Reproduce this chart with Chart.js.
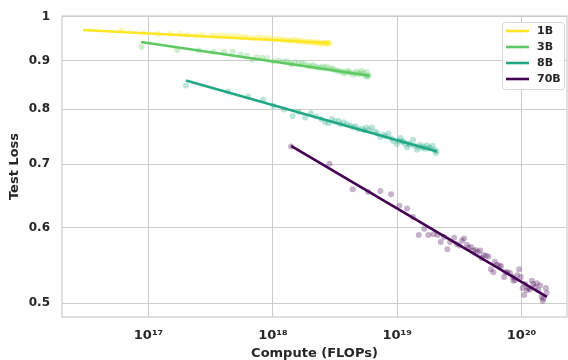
<!DOCTYPE html>
<html>
<head>
<meta charset="utf-8">
<script src="https://cdn.jsdelivr.net/npm/chart.js@4.4.1/dist/chart.umd.min.js"></script>
<style>
  html, body { margin: 0; padding: 0; background: #ffffff; overflow: hidden; }
  #wrap { width: 568px; height: 360px; }
  canvas { display: block; }
</style>
</head>
<body>
<div id="wrap"><canvas id="c" width="568" height="360"></canvas></div>
<script>
// Model sizes and their colours
const models = ['1B', '3B', '8B', '70B'];
const modelColors = ['#fde725', '#5ec962', '#22a884', '#440154'];

// Evaluated checkpoints: compute (FLOPs) and test loss
const compute1B = [6.03e16, 9.12e16, 1.18e17, 1.49e17, 1.80e17, 2.05e17, 2.40e17, 2.69e17, 3.23e17, 3.55e17,
  3.89e17, 4.21e17, 4.54e17, 4.89e17, 5.29e17, 5.67e17, 5.99e17, 6.45e17, 6.99e17, 7.48e17,
  7.91e17, 8.43e17, 8.95e17, 9.51e17, 1.01e18, 1.07e18, 1.13e18, 1.19e18, 1.26e18, 1.32e18,
  1.38e18, 1.44e18, 1.51e18, 1.57e18, 1.61e18, 1.67e18, 1.76e18, 1.84e18, 1.90e18, 1.98e18,
  2.06e18, 2.12e18, 2.19e18, 2.26e18, 2.33e18, 2.40e18, 2.48e18, 2.56e18, 2.63e18, 2.71e18,
  2.75e18, 2.81e18, 2.85e18];
const loss1B = [0.968, 0.962, 0.960, 0.960, 0.960, 0.957, 0.956, 0.958, 0.956, 0.956,
  0.957, 0.955, 0.954, 0.955, 0.954, 0.952, 0.953, 0.951, 0.950, 0.951,
  0.952, 0.949, 0.950, 0.949, 0.948, 0.947, 0.949, 0.946, 0.946, 0.945,
  0.944, 0.945, 0.946, 0.944, 0.942, 0.944, 0.942, 0.941, 0.940, 0.942,
  0.941, 0.940, 0.939, 0.941, 0.940, 0.936, 0.938, 0.939, 0.938, 0.937,
  0.940, 0.938, 0.938];

const compute3B = [8.74e16, 1.70e17, 2.53e17, 3.33e17, 4.06e17, 4.75e17, 5.51e17, 6.16e17, 6.78e17, 7.41e17,
  8.20e17, 9.00e17, 1.01e18, 1.11e18, 1.22e18, 1.30e18, 1.38e18, 1.43e18, 1.51e18, 1.61e18,
  1.71e18, 1.79e18, 1.90e18, 1.99e18, 2.09e18, 2.19e18, 2.29e18, 2.40e18, 2.51e18, 2.63e18,
  2.73e18, 2.89e18, 3.00e18, 3.11e18, 3.27e18, 3.41e18, 3.59e18, 3.71e18, 3.85e18, 4.01e18,
  4.11e18, 4.24e18, 4.45e18, 4.59e18, 4.73e18, 4.89e18, 5.03e18, 5.19e18, 5.35e18, 5.52e18,
  5.70e18, 5.78e18, 5.87e18];
const loss3B = [0.930, 0.923, 0.922, 0.919, 0.919, 0.919, 0.913, 0.911, 0.902, 0.907,
  0.906, 0.905, 0.898, 0.900, 0.897, 0.898, 0.894, 0.891, 0.896, 0.893,
  0.894, 0.892, 0.889, 0.887, 0.890, 0.887, 0.885, 0.884, 0.887, 0.883,
  0.887, 0.882, 0.883, 0.880, 0.878, 0.877, 0.876, 0.872, 0.875, 0.878,
  0.874, 0.874, 0.869, 0.873, 0.876, 0.870, 0.873, 0.878, 0.872, 0.867,
  0.875, 0.865, 0.868];

const compute8B = [2.00e17, 4.37e17, 6.33e17, 8.36e17, 1.01e18, 1.23e18, 1.44e18, 1.61e18, 1.82e18, 2.02e18,
  2.23e18, 2.45e18, 2.63e18, 2.80e18, 2.98e18, 3.17e18, 3.37e18, 3.48e18, 3.71e18, 3.93e18,
  4.18e18, 4.42e18, 4.63e18, 4.85e18, 5.19e18, 5.42e18, 5.62e18, 5.94e18, 6.25e18, 6.64e18,
  6.96e18, 7.29e18, 7.75e18, 8.07e18, 8.50e18, 8.93e18, 9.32e18, 9.93e18, 1.03e19, 1.06e19,
  1.10e19, 1.12e19, 1.16e19, 1.20e19, 1.24e19, 1.27e19, 1.34e19, 1.38e19, 1.44e19, 1.49e19,
  1.53e19, 1.59e19, 1.62e19, 1.68e19, 1.73e19, 1.79e19, 1.84e19, 1.93e19, 1.98e19, 2.04e19,
  2.07e19];
const loss8B = [0.847, 0.835, 0.825, 0.819, 0.806, 0.799, 0.787, 0.795, 0.784, 0.792,
  0.786, 0.781, 0.775, 0.773, 0.781, 0.777, 0.778, 0.771, 0.775, 0.771,
  0.769, 0.766, 0.767, 0.762, 0.763, 0.760, 0.765, 0.761, 0.765, 0.758,
  0.754, 0.748, 0.752, 0.749, 0.754, 0.745, 0.740, 0.735, 0.741, 0.746,
  0.739, 0.740, 0.735, 0.729, 0.736, 0.734, 0.743, 0.732, 0.725, 0.730,
  0.734, 0.728, 0.731, 0.727, 0.733, 0.729, 0.728, 0.732, 0.725, 0.719,
  0.723];

const compute70B = [1.40e18, 2.85e18, 4.38e18, 5.83e18, 7.33e18, 8.93e18, 1.04e19, 1.20e19, 1.34e19, 1.49e19,
  1.65e19, 1.78e19, 1.95e19, 2.11e19, 2.24e19, 2.38e19, 2.53e19, 2.66e19, 2.87e19, 3.00e19,
  3.16e19, 3.32e19, 3.45e19, 3.63e19, 3.74e19, 3.93e19, 4.10e19, 4.27e19, 4.45e19, 4.64e19,
  4.77e19, 4.95e19, 5.18e19, 5.41e19, 5.66e19, 5.93e19, 6.12e19, 6.32e19, 6.63e19, 6.84e19,
  7.23e19, 7.44e19, 7.69e19, 8.08e19, 8.50e19, 8.59e19, 8.87e19, 9.25e19, 9.55e19, 9.85e19,
  1.02e20, 1.05e20, 1.07e20, 1.10e20, 1.13e20, 1.17e20, 1.21e20, 1.24e20, 1.28e20, 1.33e20,
  1.36e20, 1.41e20, 1.45e20, 1.48e20, 1.50e20, 1.57e20, 1.59e20];
const loss70B = [0.731, 0.701, 0.659, 0.655, 0.656, 0.651, 0.633, 0.629, 0.616, 0.590,
  0.599, 0.590, 0.591, 0.590, 0.580, 0.587, 0.570, 0.580, 0.586, 0.577,
  0.575, 0.582, 0.585, 0.576, 0.572, 0.573, 0.568, 0.569, 0.566, 0.568,
  0.558, 0.562, 0.561, 0.560, 0.543, 0.539, 0.553, 0.549, 0.548, 0.547,
  0.533, 0.539, 0.539, 0.538, 0.533, 0.528, 0.529, 0.535, 0.543, 0.533,
  0.519, 0.510, 0.524, 0.516, 0.519, 0.517, 0.528, 0.524, 0.520, 0.525,
  0.516, 0.522, 0.508, 0.503, 0.506, 0.519, 0.513];

// Power-law fit for each model: [compute start, compute end] and [loss start, loss end]
const fitCompute1B = [2.98e16, 2.86e18];  const fitLoss1B = [0.9687, 0.9387];
const fitCompute3B = [8.70e16, 6.00e18];  const fitLoss3B = [0.9410, 0.8671];
const fitCompute8B = [2.00e17, 2.09e19];  const fitLoss8B = [0.8573, 0.7219];
const fitCompute70B = [1.40e18, 1.60e20]; const fitLoss70B = [0.7318, 0.5078];

// Axis ticks and their labels
const xTicks = [1e17, 1e18, 1e19, 1e20];
const xTickLabels = ['10\u00B9\u2077', '10\u00B9\u2078', '10\u00B9\u2079', '10\u00B2\u2070'];
const yTicks = [0.5, 0.6, 0.7, 0.8, 0.9, 1.0];
const yTickLabels = ['0.5', '0.6', '0.7', '0.8', '0.9', '1'];
const xRange = [2.013e16, 2.32e20];
const yRange = [0.4837, 1.0022];

const pointSets = [[compute1B, loss1B], [compute3B, loss3B], [compute8B, loss8B], [compute70B, loss70B]];
const fitSets = [[fitCompute1B, fitLoss1B], [fitCompute3B, fitLoss3B], [fitCompute8B, fitLoss8B], [fitCompute70B, fitLoss70B]];

function toPoints(xs, ys) { return xs.map((x, i) => ({ x: x, y: ys[i] })); }
function withAlpha(hex, a) {
  const n = parseInt(hex.slice(1), 16);
  return 'rgba(' + (n >> 16) + ',' + ((n >> 8) & 255) + ',' + (n & 255) + ',' + a + ')';
}

const datasets = [];
models.forEach((m, i) => {
  datasets.push({
    label: m,
    isFit: true,
    data: toPoints(fitSets[i][0], fitSets[i][1]),
    showLine: true,
    borderColor: modelColors[i],
    backgroundColor: modelColors[i],
    borderWidth: 2.6,
    pointRadius: 0,
    order: 0
  });
  datasets.push({
    label: m + ' points',
    data: toPoints(pointSets[i][0], pointSets[i][1]),
    showLine: false,
    pointRadius: 3,
    pointBorderWidth: 0,
    backgroundColor: withAlpha(modelColors[i], 0.3),
    borderColor: 'rgba(0,0,0,0)',
    order: 1
  });
});

const TEXT = '#262626';
const GRID = '#cccccc';
const FONT = 'DejaVu Sans';
const PLOT_RIGHT_GAP = 1;

// Let the plotting area run to the right edge of the canvas
const plotWidthPlugin = {
  id: 'plotWidth',
  afterLayout(chart) {
    const area = chart.chartArea;
    const right = chart.width - PLOT_RIGHT_GAP;
    area.right = right;
    area.width = right - area.left;
    const x = chart.scales.x;
    x.right = right;
    x.width = right - x.left;
    x.configure();
  }
};

// Light frame around the plotting area
const framePlugin = {
  id: 'frame',
  beforeDatasetsDraw(chart) {
    const a = chart.chartArea, ctx = chart.ctx;
    ctx.save();
    ctx.strokeStyle = GRID;
    ctx.lineWidth = 1.2;
    ctx.strokeRect(a.left, a.top, a.right - a.left, a.bottom - a.top);
    ctx.restore();
  }
};

// Legend box in the upper-right corner of the plot
const legendPlugin = {
  id: 'cornerLegend',
  afterDraw(chart) {
    const ctx = chart.ctx;
    const a = chart.chartArea;
    const fits = chart.data.datasets.filter(d => d.isFit);
    const boxW = 62, boxH = 67;
    const bx = a.right - boxW - 3, by = a.top + 6;
    ctx.save();
    ctx.beginPath();
    if (ctx.roundRect) ctx.roundRect(bx + 0.5, by + 0.5, boxW, boxH, 3);
    else ctx.rect(bx + 0.5, by + 0.5, boxW, boxH);
    ctx.fillStyle = 'rgba(255,255,255,0.85)';
    ctx.fill();
    ctx.strokeStyle = '#d6d6d6';
    ctx.lineWidth = 1;
    ctx.stroke();
    ctx.font = 'bold 11px "' + FONT + '"';
    ctx.textBaseline = 'middle';
    ctx.textAlign = 'left';
    fits.forEach((d, i) => {
      const y = by + 9 + i * 16;
      ctx.beginPath();
      ctx.moveTo(bx + 4, y);
      ctx.lineTo(bx + 27, y);
      ctx.strokeStyle = d.borderColor;
      ctx.lineWidth = 2.6;
      ctx.stroke();
      ctx.fillStyle = TEXT;
      ctx.fillText(d.label, bx + 35, y + 0.5);
    });
    ctx.restore();
  }
};

new Chart(document.getElementById('c'), {
  type: 'scatter',
  data: { datasets: datasets },
  plugins: [plotWidthPlugin, framePlugin, legendPlugin],
  options: {
    responsive: false,
    animation: false,
    devicePixelRatio: 1,
    layout: { padding: { top: 16, right: 1, left: 0, bottom: 0 } },
    plugins: { legend: { display: false }, tooltip: { enabled: false } },
    scales: {
      x: {
        type: 'logarithmic',
        min: xRange[0],
        max: xRange[1],
        afterBuildTicks: s => { s.ticks = xTicks.map(v => ({ value: v, major: true })); },
        afterFit: s => { s.height = 43; s.paddingLeft = 0; s.paddingRight = 0; },
        grid: { color: GRID, lineWidth: 1, drawTicks: false },
        border: { display: false },
        ticks: {
          autoSkip: false, maxRotation: 0, padding: 11, color: TEXT,
          font: { family: FONT, size: 13, weight: 'bold' },
          callback: v => xTickLabels[xTicks.indexOf(v)]
        },
        title: {
          display: true, text: 'Compute (FLOPs)', color: TEXT,
          font: { family: FONT, size: 13, weight: 'bold', lineHeight: 1 },
          padding: { top: 0, bottom: 0 }
        }
      },
      y: {
        type: 'logarithmic',
        min: yRange[0],
        max: yRange[1],
        afterBuildTicks: s => { s.ticks = yTicks.map(v => ({ value: v, major: true })); },
        afterFit: s => { s.width = 62; s.paddingTop = 0; s.paddingBottom = 0; },
        grid: { color: GRID, lineWidth: 1, drawTicks: false },
        border: { display: false },
        ticks: {
          autoSkip: false, padding: 12, color: TEXT,
          font: { family: FONT, size: 12, weight: 'bold' },
          callback: v => yTickLabels[yTicks.indexOf(v)]
        },
        title: {
          display: true, text: 'Test Loss', color: TEXT,
          font: { family: FONT, size: 13, weight: 'bold', lineHeight: 1 },
          padding: { top: 8, bottom: 0 }
        }
      }
    }
  }
});
</script>
</body>
</html>
